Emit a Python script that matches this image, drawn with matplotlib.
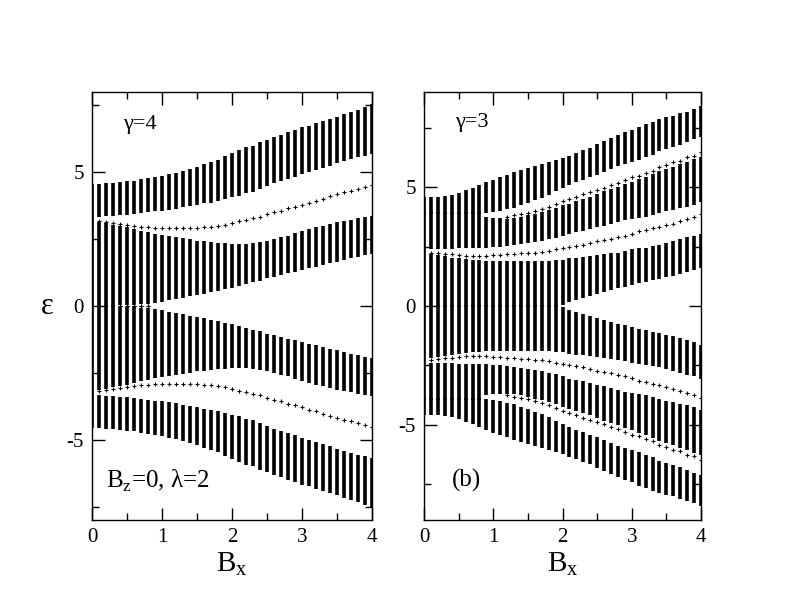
import numpy as np
import matplotlib
matplotlib.use('Agg')
import matplotlib.pyplot as plt
from matplotlib.ticker import MultipleLocator

plt.rcParams['font.family'] = ['Liberation Serif', 'DejaVu Serif']
plt.rcParams['mathtext.fontset'] = 'custom'
plt.rcParams['mathtext.rm'] = 'Liberation Serif'
plt.rcParams['axes.unicode_minus'] = False

nan = float('nan')

# field values B_x, one column of bars every 0.1
bx = [0.0, 0.1, 0.2, 0.3, 0.4, 0.5, 0.6, 0.7, 0.8, 0.9, 1.0,
      1.1, 1.2, 1.3, 1.4, 1.5, 1.6, 1.7, 1.8, 1.9, 2.0,
      2.1, 2.2, 2.3, 2.4, 2.5, 2.6, 2.7, 2.8, 2.9, 3.0,
      3.1, 3.2, 3.3, 3.4, 3.5, 3.6, 3.7, 3.8, 3.9, 4.0]

# ---- gamma = 4 (left), positive half of the spectrum ----
# where two bands touch, the edges overlap a little so the bar is solid
g4_top_hi = [4.56, 4.56, 4.59, 4.60, 4.62, 4.66, 4.69, 4.74, 4.78, 4.83, 4.87,
             4.93, 4.98, 5.03, 5.12, 5.21, 5.31, 5.37, 5.47, 5.60, 5.72,
             5.83, 5.93, 5.99, 6.12, 6.21, 6.31, 6.40, 6.49, 6.58, 6.68,
             6.74, 6.83, 6.90, 6.99, 7.08, 7.18, 7.24, 7.33, 7.43, 7.55]
g4_top_lo = [3.20, 3.34, 3.36, 3.37, 3.39, 3.41, 3.44, 3.46, 3.50, 3.54, 3.56,
             3.60, 3.63, 3.69, 3.73, 3.79, 3.84, 3.87, 3.94, 4.00, 4.06,
             4.12, 4.21, 4.27, 4.37, 4.49, 4.59, 4.69, 4.75, 4.83, 4.93,
             5.00, 5.09, 5.16, 5.25, 5.33, 5.43, 5.50, 5.56, 5.62, 5.68]
g4_edge = [nan, 3.19, 3.15, 3.12, 3.07, 3.03, 2.99, 2.97, 2.94, 2.92, 2.90,
           2.90, 2.90, 2.90, 2.91, 2.91, 2.94, 2.96, 3.00, 3.04, 3.10,
           3.17, 3.22, 3.28, 3.34, 3.44, 3.50, 3.56, 3.65, 3.71, 3.79,
           3.87, 3.94, 4.02, 4.10, 4.19, 4.25, 4.31, 4.37, 4.44, 4.54]
g4_mid_hi = [3.26, 3.15, 3.09, 3.04, 2.99, 2.94, 2.88, 2.82, 2.75, 2.69, 2.65,
             2.60, 2.57, 2.53, 2.49, 2.44, 2.42, 2.39, 2.37, 2.34, 2.32,
             2.32, 2.32, 2.34, 2.38, 2.44, 2.50, 2.57, 2.63, 2.72, 2.79,
             2.88, 2.94, 3.00, 3.06, 3.13, 3.19, 3.23, 3.28, 3.32, 3.38]
g4_mid_lo = [-0.03, -0.03, -0.03, -0.03, 0.03, 0.04, 0.05, 0.06, 0.08, 0.12, 0.16,
             0.21, 0.26, 0.31, 0.36, 0.41, 0.46, 0.51, 0.56, 0.62, 0.68,
             0.75, 0.81, 0.88, 0.95, 1.03, 1.09, 1.15, 1.22, 1.28, 1.35,
             1.41, 1.47, 1.54, 1.60, 1.66, 1.73, 1.79, 1.84, 1.90, 1.96]
g4_zero = [nan, nan, nan, nan, 0.0, 0.0, 0.0, 0.0, 0.0, nan, nan,
           nan, nan, nan, nan, nan, nan, nan, nan, nan, nan,
           nan, nan, nan, nan, nan, nan, nan, nan, nan, nan,
           nan, nan, nan, nan, nan, nan, nan, nan, nan, nan]

# ---- gamma = 3 (right), positive half of the spectrum ----
g3_b3_hi = [4.57, 4.57, 4.60, 4.64, 4.68, 4.77, 4.89, 4.98, 5.10, 5.20, 5.32,
            5.43, 5.52, 5.62, 5.71, 5.80, 5.90, 5.97, 6.06, 6.13, 6.22,
            6.33, 6.43, 6.55, 6.66, 6.80, 6.93, 7.07, 7.20, 7.30, 7.42,
            7.55, 7.65, 7.76, 7.86, 7.93, 8.00, 8.10, 8.18, 8.28, 8.42]
g3_b3_lo = [3.85, 3.85, 3.85, 3.85, 3.85, 3.85, 3.85, 3.85, 3.85, 3.92, 3.96,
            4.00, 4.06, 4.14, 4.24, 4.34, 4.45, 4.56, 4.68, 4.82, 4.96,
            5.10, 5.20, 5.29, 5.41, 5.52, 5.62, 5.76, 5.90, 5.97, 6.06,
            6.15, 6.25, 6.36, 6.50, 6.60, 6.69, 6.78, 6.88, 7.02, 7.11]
g3_edge2 = [nan, nan, nan, nan, nan, nan, nan, nan, nan, nan, nan,
            nan, 3.75, 3.82, 3.86, 3.92, 3.99, 4.06, 4.17, 4.29, 4.40,
            4.50, 4.57, 4.71, 4.78, 4.87, 4.97, 5.08, 5.18, 5.29, 5.41,
            5.48, 5.59, 5.69, 5.83, 5.92, 6.04, 6.11, 6.25, 6.32, 6.46]
g3_b2_hi = [3.95, 3.95, 3.95, 3.95, 3.95, 3.95, 3.95, 3.95, 3.95, 3.75, 3.72,
            3.70, 3.68, 3.70, 3.76, 3.82, 3.89, 3.96, 4.05, 4.14, 4.24,
            4.31, 4.40, 4.50, 4.60, 4.71, 4.82, 4.92, 5.01, 5.13, 5.22,
            5.34, 5.43, 5.55, 5.66, 5.76, 5.85, 5.97, 6.06, 6.18, 6.27]
g3_b2_lo = [2.28, 2.40, 2.40, 2.41, 2.41, 2.42, 2.42, 2.43, 2.44, 2.45, 2.47,
            2.50, 2.53, 2.56, 2.60, 2.64, 2.69, 2.74, 2.80, 2.87, 2.95,
            3.05, 3.10, 3.17, 3.24, 3.31, 3.38, 3.45, 3.52, 3.61, 3.66,
            3.70, 3.75, 3.82, 3.90, 3.98, 4.03, 4.12, 4.17, 4.25, 4.36]
g3_edge1 = [nan, 2.25, 2.23, 2.19, 2.17, 2.14, 2.11, 2.11, 2.11, 2.11, 2.13,
            2.13, 2.17, 2.18, 2.21, 2.22, 2.25, 2.28, 2.32, 2.39, 2.45,
            2.49, 2.53, 2.58, 2.63, 2.72, 2.77, 2.82, 2.89, 2.96, 3.03,
            3.14, 3.19, 3.28, 3.33, 3.42, 3.47, 3.56, 3.66, 3.73, 3.87]
g3_mid_hi = [2.33, 2.19, 2.14, 2.09, 2.04, 2.00, 1.97, 1.95, 1.93, 1.90, 1.90,
             1.90, 1.90, 1.90, 1.90, 1.90, 1.90, 1.90, 1.90, 1.93, 1.95,
             2.02, 2.04, 2.07, 2.11, 2.16, 2.18, 2.21, 2.25, 2.32, 2.39,
             2.44, 2.46, 2.53, 2.58, 2.63, 2.74, 2.82, 2.89, 2.96, 3.05]
g3_mid_lo = [-0.03, -0.03, -0.03, -0.03, -0.03, -0.03, -0.03, -0.03, -0.03, -0.03, -0.03,
             -0.03, -0.03, -0.03, -0.03, -0.03, -0.03, -0.03, -0.03, -0.03, 0.05,
             0.15, 0.25, 0.34, 0.42, 0.50, 0.58, 0.66, 0.74, 0.81, 0.88,
             0.95, 1.02, 1.08, 1.14, 1.20, 1.27, 1.35, 1.43, 1.52, 1.62]


def draw_spectrum(ax, bands, states):
    # spectrum is symmetric, draw +E and -E
    for lo, hi in bands:
        lo = np.array(lo)
        hi = np.array(hi)
        ax.vlines(bx, lo, hi, color='k', lw=2.6)
        ax.vlines(bx, -hi, -lo, color='k', lw=2.6)
    for s in states:
        s = np.array(s)
        ax.plot(bx, s, '+', color='k', ms=3.5, mew=0.8)
        ax.plot(bx, -s, '+', color='k', ms=3.5, mew=0.8)


fig = plt.figure(figsize=(7.92, 6.12), dpi=100)
ax1 = fig.add_axes([0.1162, 0.1503, 0.3535, 0.6993])
ax2 = fig.add_axes([0.5354, 0.1503, 0.3497, 0.6993])

draw_spectrum(ax1, [(g4_mid_lo, g4_mid_hi), (g4_top_lo, g4_top_hi)],
              [g4_edge, g4_zero])
draw_spectrum(ax2, [(g3_mid_lo, g3_mid_hi), (g3_b2_lo, g3_b2_hi), (g3_b3_lo, g3_b3_hi)],
              [g3_edge1, g3_edge2])

ax1.set_ylim(-8, 8)
ax2.set_ylim(-9, 9)
for ax in (ax1, ax2):
    ax.set_xlim(0, 4)
    ax.xaxis.set_major_locator(MultipleLocator(1))
    ax.xaxis.set_minor_locator(MultipleLocator(0.5))
    ax.yaxis.set_major_locator(MultipleLocator(5))
    ax.yaxis.set_minor_locator(MultipleLocator(2.5))
    ax.tick_params(which='both', direction='in', top=True, right=True,
                   labelsize=15, pad=6)
    ax.tick_params(which='major', length=9, width=1)
    ax.tick_params(which='minor', length=5, width=1)
    for sp in ax.spines.values():
        sp.set_linewidth(1)
    ax.set_xlabel('B$_{\\rm x}$', fontsize=21, labelpad=2)

ax1.set_ylabel('ε', fontsize=22, rotation=0, labelpad=14, va='center')

ax1.text(0.44, 6.8, 'γ=4', fontsize=16, va='center')
ax1.text(0.2, -6.55, 'B$_{\\rm z}$=0, λ=2', fontsize=18, va='center')
ax2.text(0.45, 7.73, 'γ=3', fontsize=16, va='center')
ax2.text(0.4, -7.35, '(b)', fontsize=18, va='center')

plt.savefig('out.png', dpi=100)
